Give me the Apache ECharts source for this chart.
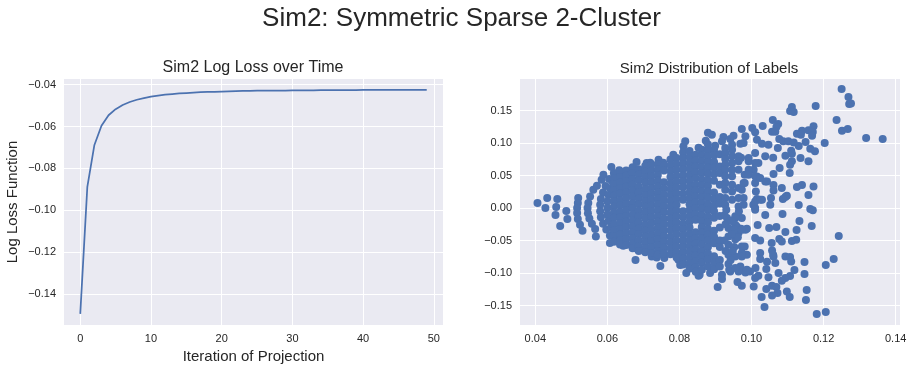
<!DOCTYPE html>
<html>
<head>
<meta charset="utf-8">
<script src="https://cdn.jsdelivr.net/npm/echarts@6/dist/echarts.min.js"></script>
<style>html,body{margin:0;padding:0;background:#fff}#c{width:913px;height:370px}</style>
</head>
<body>
<div id="c"></div>
<script>
const chartTitle = 'Sim2: Symmetric Sparse 2-Cluster';
const lossTitle = 'Sim2 Log Loss over Time';
const labelTitle = 'Sim2 Distribution of Labels';
const lossXTicks = [0, 10, 20, 30, 40, 50];
const lossYTicks = [-0.14, -0.12, -0.10, -0.08, -0.06, -0.04];
const labelXTicks = [0.04, 0.06, 0.08, 0.10, 0.12, 0.14];
const labelYTicks = [-0.15, -0.10, -0.05, 0, 0.05, 0.10, 0.15];

const lossValues = [-.1495,-.0888,-.0688,-.0596,-.0546,-.0517,-.0497,-.0483,-.0472,-.0464,-.0457,-.0452,-.0448,-.0445,-.0442,-.0440,-.0438,-.0436,-.0435,-.0434,-.0433,-.0432,-.0431,-.0430,-.0430,-.0429,-.0429,-.0428,-.0428,-.0428,-.0427,-.0427,-.0427,-.0427,-.0426,-.0426,-.0426,-.0426,-.0426,-.0426,-.0425,-.0425,-.0425,-.0425,-.0425,-.0425,-.0425,-.0425,-.0425,-.0425];

// Marks read individually around the edge of the cloud
const edgePoints = [
[.0406,.0079],[.0433,.0156],[.0461,.014],[.0428,0],[.0458,.0017],[.0486,-.0045],[.0456,-.0106],[.0489,-.0168],[.0469,-.0276],
[.0519,.0156],[.0518,.0079],[.0516,0],[.0516,-.0076],[.0518,-.0168],[.0524,-.0256],[.0531,-.0348],
[.0547,.0079],[.0552,.018],[.0561,.0284],[.0571,.0345],[.0584,.0438],[.0589,.0515],[.0611,.0633],[.0633,.0581],
[.0545,0],[.0546,-.008],[.055,-.016],[.0557,-.024],[.0566,-.032],[.0568,-.0436],
[.0605,.045],[.0595,.034],[.0588,.024],[.0582,.014],[.058,.005],[.058,-.005],[.0582,-.014],[.0588,-.024],[.0597,-.033],[.0607,-.042],[.0607,-.0538],
[.0625,.05],[.0615,.04],[.0608,.03],[.0603,.02],[.06,.01],[.06,0],[.06,-.01],[.0603,-.02],[.061,-.03],[.0618,-.04],[.0625,-.05],
[.0644,-.0579],[.0682,-.0626],[.0678,-.08],[.0723,-.0744],[.0737,-.076],[.0747,-.0892],[.0758,-.0769],[.0797,-.0795],[.0802,-.0877],[.0819,-.1],[.0853,-.1042],[.0885,-.1],
[.0663,.0565],[.0681,.071],[.0709,.0695],[.0719,.07],[.0742,.0746],[.0755,.07],[.0783,.0823],[.0811,.0951],[.0816,.1028],[.0853,.0931],
[.0873,.1039],[.0879,.1162],[.089,.1131],[.0922,.1096],[.0918,.1028],[.0899,.0962],[.0941,.1065],[.095,.1116],[.0983,.1105],[.0978,.1003],[.0969,.0992]
];
const outerUpperPoints = [
[.125,.1835],[.1269,.1712],[.1271,.1604],[.1276,.1609],[.1236,.1358],[.1251,.1193],[.1267,.1219],[.1318,.108],[.1364,.1065],[.1203,.1003],[.1178,.1573],[.1112,.1558],[.1107,.1496],[.1117,.1481],
[.1059,.1358],[.1074,.1296],[.1069,.125],[.1031,.1265],[.0973,.1219],[.1002,.1234],[.101,.1167],[.1057,.1177],[.1066,.1177],[.1172,.1259],[.1158,.1197],[.117,.1173],[.1168,.1116],[.114,.1193],[.1126,.1146],[.1137,.1131],
[.115,.1019],[.1131,.0957],[.1163,.0915],[.1176,.0874],[.111,.0884],[.1112,.0838],[.1136,.0772],[.1158,.072],[.1112,.072],[.1107,.0669],[.1078,.0618],[.1106,.0541],[.1061,.0525],[.1061,.0356],[.1061,.0273],[.1084,.031],[.1126,.0325],[.114,.0356],[.1172,.0334],[.1158,.0202],[.1098,.0191],[.1094,.0171],[.1087,.014],[.1029,.0129],[.1131,.0048],[.1052,.0052],
[.1015,.1054],[.1077,.1065],[.1088,.1028],[.1102,.1028],[.1117,.1012],[.1094,.0807],[.1073,.0926],[.1047,.0977],[.1029,.0992],[.101,.0849],[.0992,.0772],[.0971,.0777],[.1038,.0797],[.106,.0777],[.1019,.0695],[.1006,.0592],[.0981,.0515],[.1015,.0488],[.1038,.0411],[.0981,.0387],[.0973,.0284],[.0978,.0156],[.101,.0387],[.1012,.0257],[.1015,.014],[.1054,.0156],[.1005,.0052],[.101,0]
];
const outerLowerPoints = [
[.1163,-.0014],[.117,-.0032],[.1086,-.0091],[.1038,-.0106],[.1133,-.0199],[.1167,-.0276],[.1242,-.043],[.1125,-.0337],[.1094,-.0368],[.1069,-.0291],[.1049,-.0307],[.1017,-.026],[.0983,-.0333],[.101,-.0461],[.1024,-.0498],[.1056,-.0538],[.1077,-.0476],[.1084,-.0513],[.1112,-.0507],[.1124,-.0487],
[.1024,-.0692],[.1057,-.0652],[.1061,-.0744],[.1066,-.0846],[.1094,-.0744],[.1107,-.0754],[.111,-.0821],[.1147,-.0831],[.1228,-.0784],[.1206,-.0877],[.1024,-.0784],[.1043,-.0826],[.1041,-.0938],[.1011,-.0923],[.1119,-.0954],[.1147,-.1016],[.1075,-.1],[.1047,-.1063],[.1107,-.1046],[.1094,-.1077],[.1084,-.1119],[.1019,-.1042],[.101,-.1077],[.1006,-.1207],[.0973,-.1196],[.0961,-.1139],[.0906,-.1216],[.1041,-.1247],[.1057,-.1196],[.1069,-.1216],[.1072,-.1308],[.1057,-.1345],[.1098,-.1284],[.1106,-.137],[.1028,-.137],[.1153,-.1262],[.1151,-.1416],[.1036,-.1524],[.1181,-.1632],[.1206,-.1601],
[.0969,-.0923],[.0983,-.0991],[.0996,-.0975],[.0964,-.0975],[.0941,-.0975],[.0918,-.1026],[.0918,-.1092],[.0856,-.1026],
[.101,-.0025],[.0987,-.0317],[.0971,-.0317],[.0959,-.0282],[.0981,-.059],[.0987,-.0718],[.0964,-.0379],[.0955,-.0148],[.0973,-.0153],[.106,-.0718],[.0969,-.0898],[.0987,-.0949],[.0938,-.0949]
];

// The dense core, read as vertical bands of marks
const coreBandX = [.0618,.0635,.0652,.067,.0687,.0705,.0722,.074,.0757,.0775,.0792,.081,.0828,.0845,.0862,.0879,.0896,.0912];
const coreBandY = [
[.054,.046,.037,.028,.019,.011,.002,-.007,-.015,-.025,-.034,-.043,-.052],
[.056,.048,.039,.03,.022,.012,.004,-.006,-.014,-.023,-.032,-.041,-.05,-.056],
[.058,.05,.041,.033,.024,.015,.006,-.003,-.012,-.021,-.03,-.039,-.048,-.057],
[.063,.054,.045,.036,.027,.018,.008,0,-.01,-.019,-.028,-.037,-.046,-.055,-.062],
[.06,.052,.043,.033,.024,.015,.006,-.004,-.013,-.022,-.031,-.04,-.05,-.059,-.066],
[.065,.056,.047,.039,.029,.02,.011,.002,-.007,-.016,-.026,-.035,-.044,-.053,-.062,-.068],
[.067,.058,.049,.04,.031,.022,.013,.004,-.005,-.014,-.023,-.033,-.042,-.051,-.06,-.069],
[.068,.06,.051,.042,.033,.024,.015,.006,-.003,-.012,-.021,-.03,-.039,-.048,-.057,-.066,-.072],
[.066,.058,.04,.03,.021,.012,.003,-.006,-.016,-.025,-.034,-.043,-.052,-.061,-.07],
[.075,.066,.057,.048,.038,.029,.02,.011,.002,-.007,-.016,-.025,-.034,-.044,-.053,-.062,-.071],
[.077,.068,.059,.05,.041,.032,.023,.014,.005,-.004,-.013,-.022,-.031,-.04,-.05,-.059,-.068,-.076],
[.086,.077,.068,.059,.05,.041,.032,.022,.013,-.005,-.014,-.024,-.033,-.042,-.051,-.06,-.069,-.078,-.087],
[.088,.079,.07,.061,.051,.042,.033,.024,.015,.006,-.003,-.012,-.021,-.03,-.04,-.049,-.058,-.067,-.076,-.085,-.093],
[.082,.073,.064,.055,.046,.036,.027,.018,.009,0,-.009,-.018,-.037,-.046,-.055,-.064,-.073,-.082,-.091,-.098],
[.09,.081,.072,.063,.054,.044,.035,.026,.017,.008,-.001,-.011,-.02,-.029,-.038,-.047,-.056,-.066,-.075,-.084,-.095],
[.098,.089,.08,.071,.062,.053,.043,.034,.025,.016,.006,-.003,-.013,-.022,-.032,-.041,-.05,-.06,-.07,-.079,-.09],
[.09,.081,.071,.062,.052,.042,.024,.014,.004,-.005,-.015,-.035,-.044,-.054,-.074,-.084,-.094],
[.083,.064,.054,.036,.017,.007,-.012,-.03,-.05,-.06,-.08,-.09]
];

// The looser right side of the core, read mark by mark
const looseCorePoints = [
[.0927,.0926],[.0927,.0849],[.0927,.0757],[.0927,.0669],[.0927,.0592],[.0927,.0489],[.0927,.0387],[.0927,.0284],[.0927,.0156],[.0927,.0052],
[.0946,.0977],[.0946,.09],[.0946,.0797],[.0946,.0695],[.0946,.0592],[.0946,.0489],[.0946,.0361],[.0946,.0257],[.0946,.0129],
[.0964,.0797],[.0964,.072],[.0964,.0592],[.0964,.031],[.0964,.0156],[.0964,.0026],[.0978,.0387],[.0978,.0052],
[.0992,.072],[.0992,.0592],[.0992,.0515],[.101,.0695],[.101,.0489],[.101,.0103],[.1024,.0464],[.1024,.0129],[.1043,.0411],
[.093,-.0025],[.0932,-.0153],[.0936,-.0307],[.0936,-.0436],[.0936,-.0564],[.0936,-.0718],[.0936,-.086],
[.0955,-.0127],[.0955,-.0256],[.0952,-.0333],[.0955,-.048],[.0952,-.06],[.0955,-.0744],[.0955,-.0924],
[.0973,-.0333],[.0973,-.059],[.0973,-.0693],[.0973,-.0744],[.0965,-.005],[.0962,-.045],
[.0925,-.011],[.0928,-.025],[.0925,-.05],[.0928,-.066],[.0945,-.02],[.0945,-.04],[.0948,-.066],[.0942,-.08]
];

const corePoints = [];
coreBandX.forEach((x, i) => coreBandY[i].forEach(y => corePoints.push([x, y])));
const labelPoints = edgePoints.concat(outerUpperPoints, outerLowerPoints, corePoints, looseCorePoints);

const INK = '#262626', PANEL = '#EAEAF2', BLUE = '#4C72B0';
const FONT = '"Liberation Sans", Arial, sans-serif';
const minus = s => s.replace('-', '\u2212');
const tickLabel = { color: INK, fontSize: 11, fontFamily: FONT, margin: 8 };
const hide = { show: false };
const split = { show: true, lineStyle: { color: '#fff', width: 1 } };

function axis(min, max, ticks, fmt, extra, labelExtra) {
  return Object.assign({
    type: 'value', min, max, scale: true,
    axisLine: hide,
    axisTick: { show: false, customValues: ticks },
    splitLine: split,
    axisLabel: Object.assign({}, tickLabel, { customValues: ticks, formatter: v => minus(fmt(v)) }, labelExtra || {})
  }, extra || {});
}
const axisName = (name, gap) => ({
  name, nameLocation: 'middle', nameGap: gap,
  nameTextStyle: { color: INK, fontSize: 15, fontFamily: FONT }
});
const yLabelNudge = { padding: [3, 0, 0, 0] };

const chart = echarts.init(document.getElementById('c'), null, { renderer: 'canvas' });
chart.setOption({
  animation: false,
  backgroundColor: '#fff',
  title: [
    { text: chartTitle, left: 456.5, top: 1, textAlign: 'center', textStyle: { color: INK, fontSize: 26, fontWeight: 'normal', fontFamily: FONT } },
    { text: lossTitle, left: 248, top: 55, textAlign: 'center', textStyle: { color: INK, fontSize: 16, fontWeight: 'normal', fontFamily: FONT } },
    { text: labelTitle, left: 704, top: 56, textAlign: 'center', textStyle: { color: INK, fontSize: 15, fontWeight: 'normal', fontFamily: FONT } }
  ],
  grid: [
    { left: 64, top: 79, width: 379, height: 246, show: true, backgroundColor: PANEL, borderWidth: 0 },
    { left: 520, top: 79, width: 380, height: 246, show: true, backgroundColor: PANEL, borderWidth: 0 }
  ],
  xAxis: [
    axis(-2.3, 51.3, lossXTicks, v => String(v), Object.assign({ gridIndex: 0 }, axisName('Iteration of Projection', 24))),
    axis(0.03575, 0.1412, labelXTicks, v => v.toFixed(2), { gridIndex: 1 })
  ],
  yAxis: [
    axis(-0.1548, -0.0373, lossYTicks, v => v.toFixed(2), Object.assign({ gridIndex: 0 }, axisName('Log Loss Function', 44)), yLabelNudge),
    axis(-0.18, 0.1988, labelYTicks, v => v.toFixed(2), { gridIndex: 1 }, yLabelNudge)
  ],
  series: [
    { type: 'line', xAxisIndex: 0, yAxisIndex: 0, showSymbol: false, smooth: false,
      data: lossValues.map((v, i) => [i, v]), lineStyle: { color: BLUE, width: 1.75 } },
    { type: 'scatter', xAxisIndex: 1, yAxisIndex: 1, symbolSize: 8, large: false,
      data: labelPoints, itemStyle: { color: BLUE, opacity: 1 } }
  ]
});
</script>
</body>
</html>
